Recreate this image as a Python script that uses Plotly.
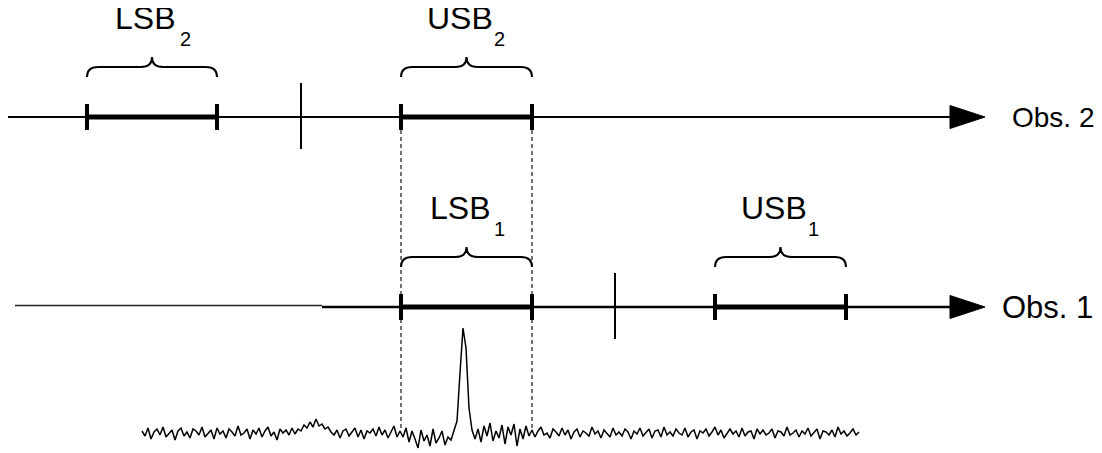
import numpy as np
import plotly.graph_objects as go

# ---------------- data ----------------
observations = ["Obs. 2", "Obs. 1"]
lo_freq = [301, 615]                 # local oscillator frequency per observation
lsb_lo = [87, 401]
lsb_hi = [217, 532]
usb_lo = [401, 715]
usb_hi = [532, 846]
lsb_names = ["LSB", "LSB"]
usb_names = ["USB", "USB"]
band_index = ["2", "1"]

spec_start = 142
spec_step = 3
spec_values = [
    # below LSB1
    2, -3, 5, -6, 1, 4, -2, 6, -4, 0,
    3, -7, 2, 5, -3, 1, -5, 4, 2, -2,
    6, -4, 0, 3, -6, 5, -1, 2, -5, 4,
    1, -3, 7, -2, 0, 4, -6, 3, -1, 5,
    -4, 2, 6, -3, 1, -7, 4, 0, 3, -2,
    5, -1, 4, 2, 8, 5, 11, 6, 14, 7,
    9, 4, 6, 1, -2, 3, -5, 2, 4, -3,
    1, 5, -4, 3, -6, 2, 0, 4, -3, 6,
    -2, 3, -5, 1, 7, -4, 2,
    # inside LSB1, before the line
    -4, 5, -9, 2, -6, -15, 3, -8, -2, -13, 4, -10, -5, 2, -12, -4, -7,
    # the line
    2, 12, 60, 105, 85, 25, 3,
    # inside LSB1, after the line
    -6, 4, -9, 7, -3, 10, -8, 2, -5, 8, -11, 6, -2, 9, -13, 4, -6, 7, -3,
    # above LSB1
    3, -4, 2, 6, -2, 0, -5, 4, 1, -3,
    5, -2, 3, -6, 1, 4, -4, 2, 0, -3,
    6, -1, 2, -5, 3, 0, -4, 5, -2, 1,
    -3, 4, 1, -6, 2, -1, 5, -3, 0, 4,
    -5, 2, 3, -4, 6, -2, 1, -3, 4, 0,
    -2, 5, -4, 1, 3, -6, 2, 0, 4, -3,
    1, 6, -2, 3, -5, 0, 4, -1, 2, -4,
    5, -3, 1, 2, -6, 4, -1, 3, -2, 0,
    4, -5, 2, 1, -3, 6, -2, 0, 3, -4,
    2, -1, 5, -3, 0, 4, -6, 2, 1, -2,
    3, -4, 6, -1, 2, -3, 0, 4, -2, 1,
]

# ---------------- layout constants ----------------
W, H = 1102, 453
PAD = 8                     # page body margin
axis_y = [117, 307]
axis_x0 = [8, 15]
arrow_base, arrow_tip, arrow_half = 950, 985, 11.5
tick_half = 13
lo_up, lo_down = 34, 32
brace_end, brace_mid, brace_top, brace_r = 40, 50, 60, 11
label_dy, label_dx = 99, -7
sub_dy, sub_dx = 78, 33
obs_x = [1010, 1000]
obs_size = [28, 31]
spec_base = 433
FONT = "Liberation Sans"

fig = go.Figure()

spec_x = spec_start + spec_step * np.arange(len(spec_values))
fig.add_trace(go.Scatter(x=spec_x, y=spec_values, mode="lines",
                         line=dict(color="black", width=1.5),
                         yaxis="y2", hoverinfo="skip", showlegend=False))

shapes = []
annotations = []


def brace_path(x0, x1, yb):
    xc = (x0 + x1) / 2
    ye, yh, yc = yb - brace_end, yb - brace_mid, yb - brace_top
    r = brace_r
    return (f"M {x0},{ye} Q {x0},{yh} {x0 + r},{yh} L {xc - r},{yh} "
            f"Q {xc},{yh} {xc},{yc} Q {xc},{yh} {xc + r},{yh} "
            f"L {x1 - r},{yh} Q {x1},{yh} {x1},{ye}")


for i, name in enumerate(observations):
    y0 = axis_y[i]
    # main axis
    if i == 0:
        shapes.append(dict(type="line", x0=axis_x0[i], x1=arrow_base, y0=y0, y1=y0,
                           line=dict(color="black", width=2)))
    else:
        split = 322
        shapes.append(dict(type="line", x0=axis_x0[i], x1=split, y0=y0 - 1.5, y1=y0 - 1.5,
                           line=dict(color="#222", width=1.6)))
        shapes.append(dict(type="line", x0=split, x1=arrow_base, y0=y0, y1=y0,
                           line=dict(color="black", width=2.6)))
    # arrow head
    shapes.append(dict(type="path",
                       path=f"M {arrow_base},{y0 - arrow_half} L {arrow_tip},{y0} "
                            f"L {arrow_base},{y0 + arrow_half} Z",
                       fillcolor="black", line=dict(color="black", width=1)))
    # LO marker
    shapes.append(dict(type="line", x0=lo_freq[i], x1=lo_freq[i], y0=y0 - lo_up, y1=y0 + lo_down,
                       line=dict(color="black", width=2)))
    # sidebands
    for (a, b, lab) in [(lsb_lo[i], lsb_hi[i], lsb_names[i]), (usb_lo[i], usb_hi[i], usb_names[i])]:
        c = (a + b) / 2
        shapes.append(dict(type="line", x0=a, x1=b, y0=y0, y1=y0,
                           line=dict(color="black", width=5)))
        for e in (a, b):
            shapes.append(dict(type="line", x0=e, x1=e, y0=y0 - tick_half, y1=y0 + tick_half,
                               line=dict(color="black", width=4)))
        shapes.append(dict(type="path", path=brace_path(a, b, y0),
                           line=dict(color="black", width=2)))
        annotations.append(dict(x=c + label_dx, y=y0 - label_dy, xref="x", yref="y",
                                text=lab, showarrow=False, xanchor="center", yanchor="middle",
                                font=dict(family=FONT, size=32, color="black")))
        annotations.append(dict(x=c + sub_dx, y=y0 - sub_dy, xref="x", yref="y",
                                text=band_index[i], showarrow=False,
                                xanchor="center", yanchor="middle",
                                font=dict(family=FONT, size=20, color="black")))
    annotations.append(dict(x=obs_x[i], y=y0, xref="x", yref="y", text=name,
                            showarrow=False, xanchor="left", yanchor="middle",
                            font=dict(family=FONT, size=obs_size[i], color="black")))

# dashed guide lines from USB2 edges down through LSB1 to the spectrum
for e in (usb_lo[0], usb_hi[0]):
    shapes.append(dict(type="line", x0=e, x1=e, y0=axis_y[0] + tick_half, y1=428,
                       line=dict(color="black", width=1.1, dash="4px,3px")))

fig.update_layout(
    width=W - PAD, height=H - PAD,
    margin=dict(l=0, r=0, t=0, b=0),
    paper_bgcolor="white", plot_bgcolor="white",
    xaxis=dict(range=[PAD, W], visible=False, fixedrange=True),
    yaxis=dict(range=[H, PAD], visible=False, fixedrange=True),
    yaxis2=dict(range=[-(H - spec_base), spec_base - PAD], overlaying="y",
                visible=False, fixedrange=True),
    shapes=shapes, annotations=annotations, showlegend=False,
)

fig.write_html("out.html")
